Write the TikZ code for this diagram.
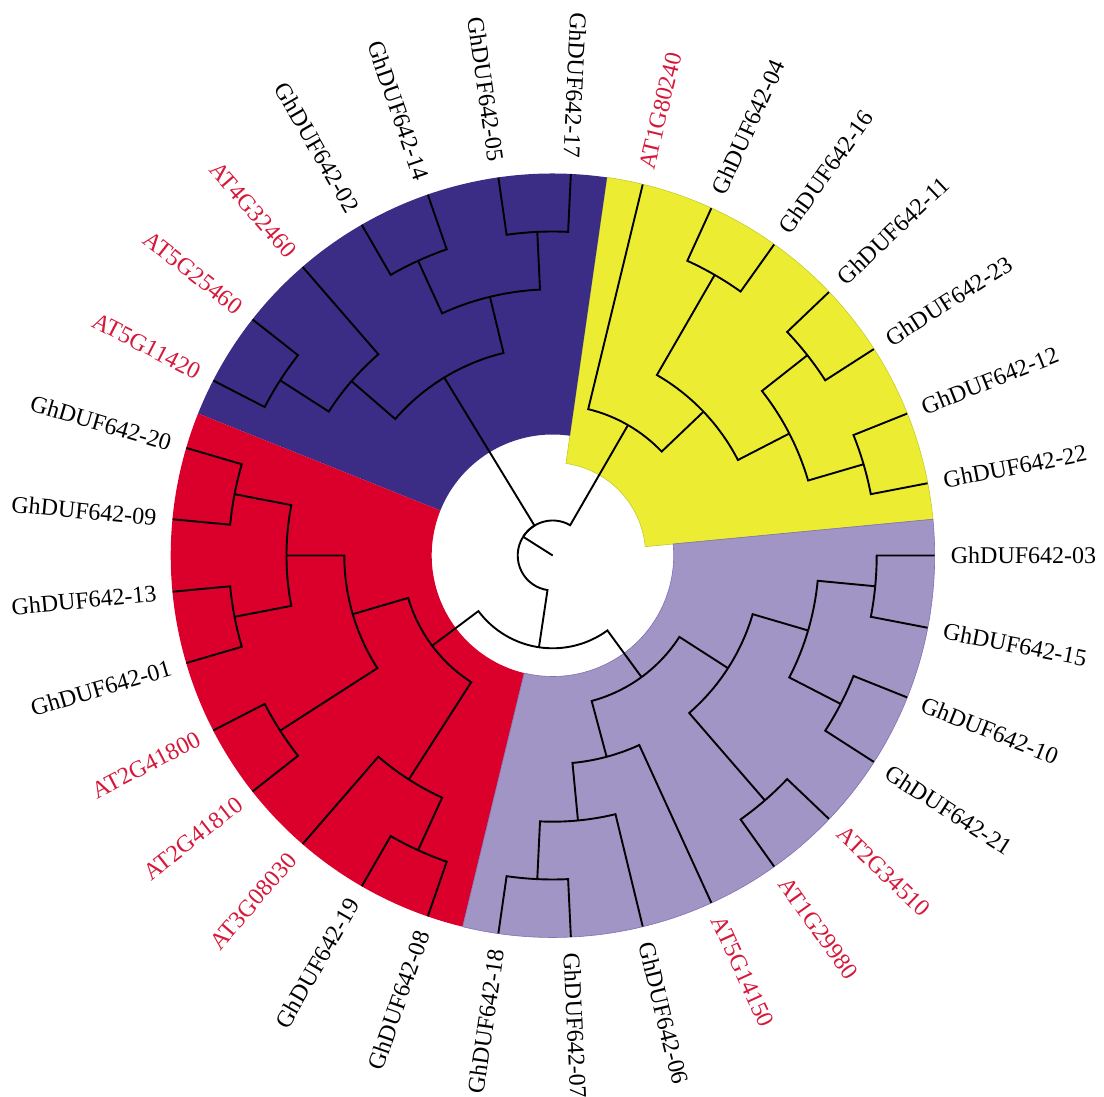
\documentclass[tikz,border=0pt]{standalone}
\usepackage{fontspec}
\setmainfont{Liberation Serif}
\usetikzlibrary{calc}

\definecolor{yelFill}{RGB}{236,237,51}
\definecolor{yelEdge}{RGB}{196,204,40}
\definecolor{bluFill}{RGB}{59,45,133}
\definecolor{redFill}{RGB}{219,0,43}
\definecolor{lavFill}{RGB}{160,149,196}
\definecolor{lavEdge}{RGB}{128,112,180}
\definecolor{atRed}{RGB}{214,24,58}

\tikzset{
    branch/.style={to path={let \p1=(\tikztostart), \p2=(\tikztotarget),
        \n1={atan2(\y1,\x1)}, \n2={atan2(\y2,\x2)}, \n3={veclen(\x1,\y1)} in
        arc[start angle=\n1, end angle={\n1+Mod(\n2-\n1+180,360)-180}, radius=\n3]
        -- (\tikztotarget)}},
    outR/.style={anchor=west, inner sep=0pt, rotate=#1},
    outL/.style={anchor=east, inner sep=0pt, rotate=#1-180},
    ghlab/.style={text=black},
    atlab/.style={text=atRed},
}

\begin{document}
\begin{tikzpicture}[x=1pt,y=1pt]
        \useasboundingbox (-552.7,-541.5) rectangle (551.3,555.5);
        % clade sectors
        \begin{scope}[line width=0.6pt]
            \filldraw[fill=yelFill,draw=yelEdge] (5.45:93) arc[start angle=5.45,end angle=81.82,radius=93]
                -- (81.82:382) arc[start angle=81.82,end angle=5.45,radius=382] -- cycle;
            \fill[bluFill] (81.82:121) arc[start angle=81.82,end angle=158.18,radius=121]
                -- (158.18:382) arc[start angle=158.18,end angle=81.82,radius=382] -- cycle;
            \fill[redFill] (158.18:121) arc[start angle=158.18,end angle=256.36,radius=121]
                -- (256.36:382) arc[start angle=256.36,end angle=158.18,radius=382] -- cycle;
            \filldraw[fill=lavFill,draw=lavEdge] (256.36:121) arc[start angle=256.36,end angle=365.45,radius=121]
                -- (365.45:382) arc[start angle=365.45,end angle=256.36,radius=382] -- cycle;
        \end{scope}
        % inner nodes
        \coordinate (ctr) at (0,0);
        \coordinate (root) at (147.61:35);
        \coordinate (redlav) at (261.48:92.8);
        \coordinate (y1) at (60:150.6);
        \coordinate (y2) at (43.64:208.4);
        \coordinate (y3) at (60:324);
        \coordinate (y4) at (27.27:266.2);
        \coordinate (y5) at (38.18:324);
        \coordinate (y6) at (16.36:324);
        \coordinate (b1) at (121.36:208.4);
        \coordinate (b2) at (139.09:266.2);
        \coordinate (b3) at (147.27:324);
        \coordinate (b4) at (103.64:266.2);
        \coordinate (b5) at (114.55:324);
        \coordinate (b6) at (92.73:324);
        \coordinate (r1) at (216.82:150.6);
        \coordinate (r2) at (196.36:208.4);
        \coordinate (r3) at (180:266.2);
        \coordinate (r4) at (169.09:324);
        \coordinate (r5) at (190.91:324);
        \coordinate (r6) at (212.73:324);
        \coordinate (r7) at (237.27:266.2);
        \coordinate (r8) at (245.45:324);
        \coordinate (v1) at (-53.86:150.6);
        \coordinate (v2) at (-32.73:208.4);
        \coordinate (v3) at (-16.36:266.2);
        \coordinate (v4) at (-5.45:324);
        \coordinate (v5) at (-27.27:324);
        \coordinate (v6) at (-49.09:324);
        \coordinate (v7) at (-75:208.4);
        \coordinate (v8) at (-84.55:266.2);
        \coordinate (v9) at (-92.73:324);
        % leaf tips
        \coordinate (a80240) at (76.36:381.8);
        \coordinate (g04) at (65.45:381.8);
        \coordinate (g16) at (54.55:381.8);
        \coordinate (g11) at (43.64:381.8);
        \coordinate (g23) at (32.73:381.8);
        \coordinate (g12) at (21.82:381.8);
        \coordinate (g22) at (10.91:381.8);
        \coordinate (g03) at (0:381.8);
        \coordinate (g15) at (-10.91:381.8);
        \coordinate (g10) at (-21.82:381.8);
        \coordinate (g21) at (-32.73:381.8);
        \coordinate (a34510) at (-43.64:381.8);
        \coordinate (a29980) at (-54.55:381.8);
        \coordinate (a14150) at (-65.45:381.8);
        \coordinate (g06) at (-76.36:381.8);
        \coordinate (g07) at (-87.27:381.8);
        \coordinate (g18) at (261.82:381.8);
        \coordinate (g08) at (250.91:381.8);
        \coordinate (g19) at (240:381.8);
        \coordinate (a08030) at (229.09:381.8);
        \coordinate (a41810) at (218.18:381.8);
        \coordinate (a41800) at (207.27:381.8);
        \coordinate (g01) at (196.36:381.8);
        \coordinate (g13) at (185.45:381.8);
        \coordinate (g09) at (174.55:381.8);
        \coordinate (g20) at (163.64:381.8);
        \coordinate (a11420) at (152.73:381.8);
        \coordinate (a25460) at (141.82:381.8);
        \coordinate (a32460) at (130.91:381.8);
        \coordinate (g02) at (120:381.8);
        \coordinate (g14) at (109.09:381.8);
        \coordinate (g05) at (98.18:381.8);
        \coordinate (g17) at (87.27:381.8);
        % labels
        \begin{scope}[every node/.style={font=\fontsize{24}{28}\selectfont}]
            \node (la80240) [outR=76.36,atlab] at (76.36:398) {AT1G80240};
            \node (lg04) [outR=65.45,ghlab] at (65.45:398) {GhDUF642-04};
            \node (lg16) [outR=54.55,ghlab] at (54.55:398) {GhDUF642-16};
            \node (lg11) [outR=43.64,ghlab] at (43.64:398) {GhDUF642-11};
            \node (lg23) [outR=32.73,ghlab] at (32.73:398) {GhDUF642-23};
            \node (lg12) [outR=21.82,ghlab] at (21.82:398) {GhDUF642-12};
            \node (lg22) [outR=10.91,ghlab] at (10.91:398) {GhDUF642-22};
            \node (lg03) [outR=0,ghlab] at (0:398) {GhDUF642-03};
            \node (lg15) [outR=-10.91,ghlab] at (-10.91:398) {GhDUF642-15};
            \node (lg10) [outR=-21.82,ghlab] at (-21.82:398) {GhDUF642-10};
            \node (lg21) [outR=-32.73,ghlab] at (-32.73:398) {GhDUF642-21};
            \node (la34510) [outR=-43.64,atlab] at (-43.64:398) {AT2G34510};
            \node (la29980) [outR=-54.55,atlab] at (-54.55:398) {AT1G29980};
            \node (la14150) [outR=-65.45,atlab] at (-65.45:398) {AT5G14150};
            \node (lg06) [outR=-76.36,ghlab] at (-76.36:398) {GhDUF642-06};
            \node (lg07) [outR=-87.27,ghlab] at (-87.27:398) {GhDUF642-07};
            \node (lg18) [outL=261.82,ghlab] at (261.82:398) {GhDUF642-18};
            \node (lg08) [outL=250.91,ghlab] at (250.91:398) {GhDUF642-08};
            \node (lg19) [outL=240,ghlab] at (240:398) {GhDUF642-19};
            \node (la08030) [outL=229.09,atlab] at (229.09:398) {AT3G08030};
            \node (la41810) [outL=218.18,atlab] at (218.18:398) {AT2G41810};
            \node (la41800) [outL=207.27,atlab] at (207.27:398) {AT2G41800};
            \node (lg01) [outL=196.36,ghlab] at (196.36:398) {GhDUF642-01};
            \node (lg13) [outL=185.45,ghlab] at (185.45:398) {GhDUF642-13};
            \node (lg09) [outL=174.55,ghlab] at (174.55:398) {GhDUF642-09};
            \node (lg20) [outL=163.64,ghlab] at (163.64:398) {GhDUF642-20};
            \node (la11420) [outL=152.73,atlab] at (152.73:398) {AT5G11420};
            \node (la25460) [outL=141.82,atlab] at (141.82:398) {AT5G25460};
            \node (la32460) [outL=130.91,atlab] at (130.91:398) {AT4G32460};
            \node (lg02) [outL=120,ghlab] at (120:398) {GhDUF642-02};
            \node (lg14) [outL=109.09,ghlab] at (109.09:398) {GhDUF642-14};
            \node (lg05) [outL=98.18,ghlab] at (98.18:398) {GhDUF642-05};
            \node (lg17) [outL=87.27,ghlab] at (87.27:398) {GhDUF642-17};
        \end{scope}
        % branches
        \begin{scope}[every edge/.style={draw,line width=1.9pt,branch}]
            \draw[line width=1.9pt] (ctr) -- (root);
            \path
                (root) edge (y1)
                (root) edge (b1)
                (root) edge (redlav)
                (redlav) edge (r1)
                (redlav) edge (v1);
            \path
                (y1) edge (a80240)
                (y1) edge (y2)
                (y2) edge (y3)
                (y2) edge (y4)
                (y3) edge (g04)
                (y3) edge (g16)
                (y4) edge (y5)
                (y4) edge (y6)
                (y5) edge (g11)
                (y5) edge (g23)
                (y6) edge (g12)
                (y6) edge (g22);
            \path
                (b1) edge (b2)
                (b1) edge (b4)
                (b2) edge (b3)
                (b2) edge (a32460)
                (b3) edge (a11420)
                (b3) edge (a25460)
                (b4) edge (b5)
                (b4) edge (b6)
                (b5) edge (g02)
                (b5) edge (g14)
                (b6) edge (g05)
                (b6) edge (g17);
            \path
                (r1) edge (r2)
                (r1) edge (r7)
                (r2) edge (r3)
                (r2) edge (r6)
                (r3) edge (r4)
                (r3) edge (r5)
                (r4) edge (g20)
                (r4) edge (g09)
                (r5) edge (g13)
                (r5) edge (g01)
                (r6) edge (a41800)
                (r6) edge (a41810)
                (r7) edge (a08030)
                (r7) edge (r8)
                (r8) edge (g19)
                (r8) edge (g08);
            \path
                (v1) edge (v2)
                (v1) edge (v7)
                (v2) edge (v3)
                (v2) edge (v6)
                (v3) edge (v4)
                (v3) edge (v5)
                (v4) edge (g03)
                (v4) edge (g15)
                (v5) edge (g10)
                (v5) edge (g21)
                (v6) edge (a34510)
                (v6) edge (a29980)
                (v7) edge (v8)
                (v7) edge (a14150)
                (v8) edge (v9)
                (v8) edge (g06)
                (v9) edge (g07)
                (v9) edge (g18);
        \end{scope}
    \end{tikzpicture}
\end{document}
